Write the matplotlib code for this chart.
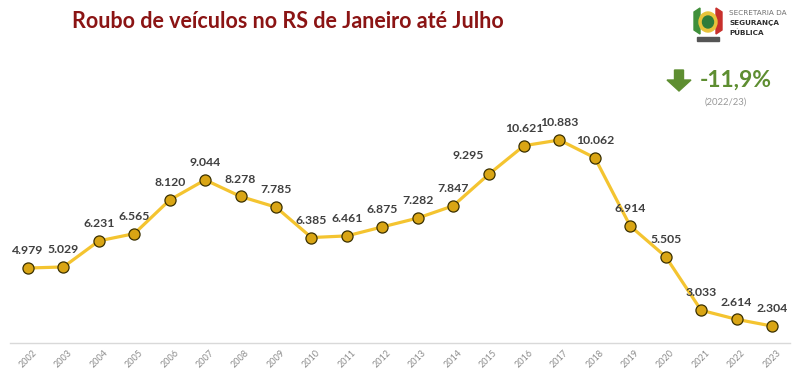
import matplotlib.pyplot as plt
from matplotlib.patches import FancyArrow, Ellipse, Rectangle, Polygon

# dados: roubo de veículos no RS, janeiro a julho
anos = list(range(2002, 2024))
roubos = [4979, 5029, 6231, 6565, 8120, 9044, 8278, 7785, 6385, 6461, 6875,
          7282, 7847, 9295, 10621, 10883, 10062, 6914, 5505, 3033, 2614, 2304]
variacao = '-11,9%'
periodo = '(2022/23)'

plt.rcParams['font.family'] = ['Lato', 'DejaVu Sans']

fig = plt.figure(figsize=(8, 3.74), dpi=100)
ax = fig.add_axes([10 / 800, 31 / 374, 780 / 800, 263 / 374])

ax.plot(anos, roubos, color='#F4C430', linewidth=2.3, zorder=2)
ax.plot(anos, roubos, linestyle='none', marker='o', markersize=8,
        markerfacecolor='#D9A514', markeredgecolor='#3a3000',
        markeredgewidth=0.9, zorder=3)

for a, v in zip(anos, roubos):
    txt = f'{v:,}'.replace(',', '.')
    dx, dy = (-15, 10) if a == 2015 else (0, 8.5)
    ax.annotate(txt, (a, v), xytext=(dx, dy), textcoords='offset points',
                ha='center', va='bottom', fontsize=8.8, fontweight='bold',
                color='#404040')

ax.set_xlim(2001.49, 2023.51)
ax.set_ylim(1522, 13650)
ax.set_xticks(anos)
ax.set_xticklabels([str(a) for a in anos], rotation=45, fontsize=6.5,
                   color='#8c8c8c')
ax.tick_params(axis='x', length=0, pad=4)
ax.set_yticks([])
for s in ['top', 'left', 'right']:
    ax.spines[s].set_visible(False)
ax.spines['bottom'].set_color('#d9d9d9')
ax.spines['bottom'].set_linewidth(1)

# título
fig.text(72 / 800, 1 - 22 / 374, 'Roubo de veículos no RS de Janeiro até Julho',
         ha='left', va='center', fontsize=15.5, fontweight='bold',
         color='#8B1414')

# brasão simplificado
def px(x, y):
    return (x / 800, 1 - y / 374)

tf = fig.transFigure
fig.patches.append(Polygon([px(694, 12), px(700, 8), px(700, 34), px(694, 30)],
                           closed=True, color='#3f8f3a', transform=tf))
fig.patches.append(Polygon([px(722, 12), px(716, 8), px(716, 34), px(722, 30)],
                           closed=True, color='#c8302c', transform=tf))
fig.patches.append(Ellipse(px(708, 22), 18 / 800, 20 / 374, color='#e8c33a',
                           transform=tf))
fig.patches.append(Ellipse(px(708, 22), 11 / 800, 12 / 374, color='#2f7c3a',
                           transform=tf))
fig.patches.append(Rectangle(px(697, 41), 22 / 800, 4 / 374, color='#555555',
                             transform=tf))

# logotipo (texto)
fig.text(729 / 800, 1 - 13 / 374, 'SECRETARIA DA', fontsize=5.2,
         color='#707070', family=['DejaVu Sans'], va='center')
fig.text(729 / 800, 1 - 23 / 374, 'SEGURANÇA', fontsize=5.2,
         fontweight='bold', color='#303030', family=['DejaVu Sans'], va='center')
fig.text(729 / 800, 1 - 33 / 374, 'PÚBLICA', fontsize=5.2,
         fontweight='bold', color='#303030', family=['DejaVu Sans'], va='center')

# seta e variação
seta = FancyArrow(679 / 800, 1 - 70 / 374, 0, -21 / 374, width=9 / 800,
                  head_width=24 / 800, head_length=11 / 374,
                  length_includes_head=True, color='#5E8E31', transform=tf)
fig.patches.append(seta)
fig.text(700 / 800, 1 - 80 / 374, variacao, ha='left', va='center',
         fontsize=16.5, fontweight='bold', color='#5E8E31')
fig.text(726 / 800, 1 - 102 / 374, periodo, ha='center', va='center',
         fontsize=6.8, color='#999999')

fig.savefig('out.png', dpi=100)
